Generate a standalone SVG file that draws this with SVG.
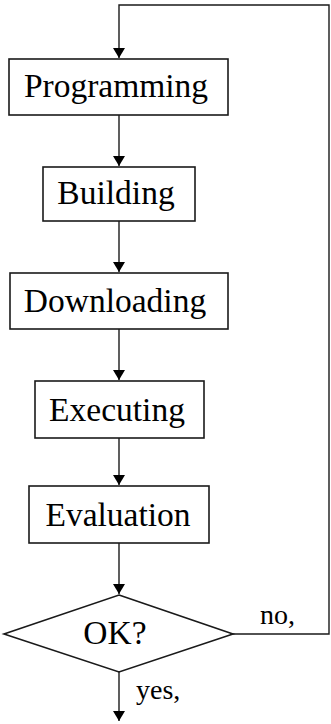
<svg xmlns="http://www.w3.org/2000/svg" width="331" height="724" viewBox="0 0 331 724">
  <style>
    .box { fill: #ffffff; stroke: #1a1a1a; stroke-width: 1.6; }
    .label { font-family: 'Liberation Serif', 'Times New Roman', serif; font-size: 33.5px; fill: #000; text-anchor: middle; }
    .small { font-family: 'Liberation Serif', 'Times New Roman', serif; font-size: 28px; fill: #000; }
    .wire { fill: none; stroke: #1a1a1a; stroke-width: 1.4; }
  </style>
  <defs>
    <marker id="arrow" viewBox="0 0 10 12" refX="10" refY="6" markerWidth="10" markerHeight="12" markerUnits="userSpaceOnUse" orient="auto">
      <path d="M0,0 L10,6 L0,12 Z" fill="#000"/>
    </marker>
  </defs>
  <rect width="331" height="724" fill="#ffffff"/>

  <g id="connectors">
    <path class="wire" d="M119,634 H329 V5 H119 V58" marker-end="url(#arrow)"/>
    <line class="wire" x1="119" y1="115" x2="119" y2="166" marker-end="url(#arrow)"/>
    <line class="wire" x1="119" y1="221" x2="119" y2="272" marker-end="url(#arrow)"/>
    <line class="wire" x1="119" y1="329" x2="119" y2="380" marker-end="url(#arrow)"/>
    <line class="wire" x1="119" y1="438" x2="119" y2="485" marker-end="url(#arrow)"/>
    <line class="wire" x1="119" y1="543" x2="119" y2="594" marker-end="url(#arrow)"/>
    <line class="wire" x1="119" y1="672" x2="119" y2="721" marker-end="url(#arrow)"/>
    <text class="small" x="260" y="624">no,</text>
    <text class="small" x="136" y="699">yes,</text>
  </g>

  <g id="programming">
    <rect class="box" x="9" y="59" width="219" height="56"/>
    <text class="label" x="116" y="97">Programming</text>
  </g>
  <g id="building">
    <rect class="box" x="43" y="167" width="152" height="54"/>
    <text class="label" x="116" y="204">Building</text>
  </g>
  <g id="downloading">
    <rect class="box" x="10" y="273" width="218" height="56"/>
    <text class="label" x="115" y="312">Downloading</text>
  </g>
  <g id="executing">
    <rect class="box" x="35" y="381" width="169" height="57"/>
    <text class="label" x="117" y="421">Executing</text>
  </g>
  <g id="evaluation">
    <rect class="box" x="29" y="486" width="180" height="57"/>
    <text class="label" x="118" y="526">Evaluation</text>
  </g>
  <g id="ok">
    <polygon class="box" points="119,595 233,634 119,672 4,634"/>
    <text class="label" x="115" y="644">OK?</text>
  </g>
</svg>
